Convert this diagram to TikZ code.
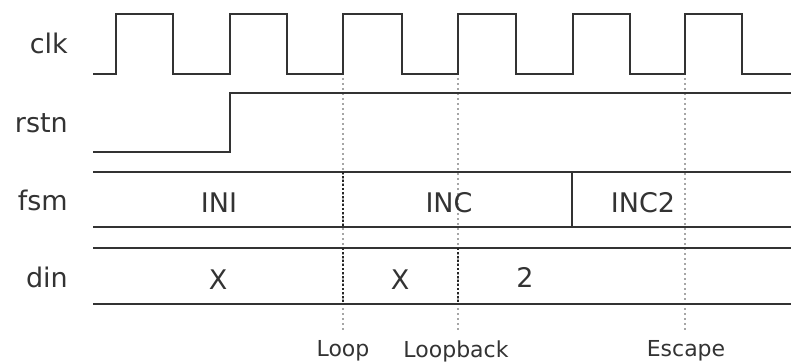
\documentclass[tikz,border=0pt]{standalone}
\usepackage{fontspec}
\setmainfont{DejaVu Sans}
\begin{document}
\begin{tikzpicture}[x=1pt,y=-1pt,
  sig/.style={draw=black!80, line width=2.6pt, line join=miter},
  bus/.style={draw=black!80, line width=2.4pt},
  guide/.style={draw=black!35, line width=2pt, dash pattern=on 2pt off 3pt},
  darkguide/.style={draw=black!85, line width=2pt, dash pattern=on 2pt off 2pt},
  lbl/.style={text=black!80, font=\fontsize{27}{27}\selectfont, anchor=east, inner sep=0pt},
  val/.style={text=black!80, font=\fontsize{27}{27}\selectfont, inner sep=0pt},
  mark label/.style={text=black!80, font=\fontsize{22}{22}\selectfont, inner sep=0pt}]
\useasboundingbox (0,0) rectangle (791,363);
% guides
\coordinate (g1t) at (343,78); \coordinate (g1b) at (343,332);
\coordinate (g2t) at (458,78); \coordinate (g2b) at (458,332);
\coordinate (g3t) at (685,78); \coordinate (g3b) at (685,332);
\draw[guide] (g1t) -- (g1b);
\draw[guide] (g2t) -- (g2b);
\draw[guide] (g3t) -- (g3b);
% clk
\draw[sig] (93,74) -- (116,74) -- (116,14) -- (173,14) -- (173,74) -- (230,74) -- (230,14) -- (287,14) -- (287,74) -- (343,74) -- (343,14) -- (402,14) -- (402,74) -- (458,74) -- (458,14) -- (516,14) -- (516,74) -- (573,74) -- (573,14) -- (630,14) -- (630,74) -- (685,74) -- (685,14) -- (742,14) -- (742,74) -- (791,74);
% rstn
\draw[sig] (93,152) -- (230,152) -- (230,93) -- (791,93);
% fsm
\draw[bus] (93,172) -- (791,172);
\draw[bus] (93,227) -- (791,227);
\draw[bus] (572,172) -- (572,227);
\draw[darkguide] (343,172) -- (343,227);
% din
\draw[bus] (93,248) -- (791,248);
\draw[bus] (93,304) -- (791,304);
\draw[darkguide] (343,248) -- (343,304);
\draw[darkguide] (458,248) -- (458,304);
% labels
\node[lbl] (clk) at (68,43) {clk};
\node[lbl] (rstn) at (68,123) {rstn};
\node[lbl] (fsm) at (68,200) {fsm};
\node[lbl] (din) at (68,277) {din};
\node[val] (ini) at (219,203) {INI};
\node[val] (inc) at (449,203) {INC};
\node[val] (inc2) at (643,203) {INC2};
\node[val] (x1) at (218,280) {X};
\node[val] (x2) at (400,280) {X};
\node[val] (two) at (525,277) {2};
\node[mark label] (loop) at (343,351) {Loop};
\node[mark label] (loopback) at (456,351) {Loopback};
\node[mark label] (escape) at (686,351) {Escape};
\end{tikzpicture}
\end{document}
